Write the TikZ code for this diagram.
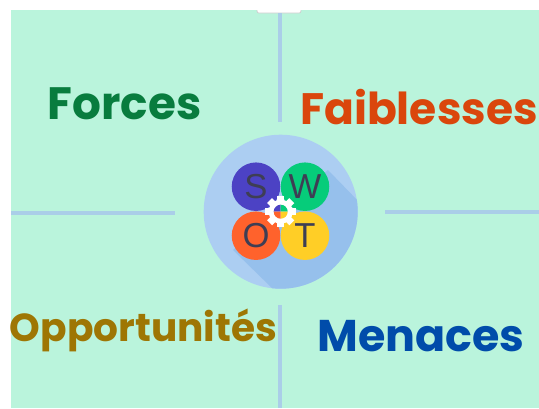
\documentclass[tikz,border=0pt]{standalone}
\usepackage{fontspec}
\setmainfont{Poppins}
\newfontfamily\lettersfont{Liberation Sans}
\definecolor{panelgreen}{RGB}{186,244,220}
\definecolor{linkblue}{RGB}{170,206,232}
\definecolor{hubblue}{RGB}{172,206,242}
\definecolor{shadeblue}{RGB}{150,192,236}
\definecolor{letterink}{RGB}{62,62,84}
\tikzset{
  titlelabel/.style={inner sep=0pt,font=\fontsize{34}{34}\selectfont\bfseries},
  linkline/.style={color=linkblue,line width=2.4},
  petal/.style={circle,minimum size=36.4pt,inner sep=0pt,text=letterink,font=\lettersfont\fontsize{26}{26}\selectfont},
}
\begin{document}
\begin{tikzpicture}[x=0.75pt,y=0.75pt,yscale=-1,xscale=1]
\useasboundingbox (0,0) rectangle (539,408);
%Shape: Panel
\fill [white] (0,0) rectangle (539,408);
\fill [panelgreen] (11,10) rectangle (539,408);
%Shape: Tab
\draw [color={rgb, 255:red, 205; green, 205; blue, 205 }, fill=white, line width=0.5] (257,9) -- (257,11) .. controls (257,12.5) and (258,13) .. (259,13) -- (299,13) .. controls (300,13) and (301,12.5) .. (301,11) -- (301,9) ;
\fill [white] (256,8) rectangle (302,10);
%Shape: Links
\coordinate (topstart) at (280,13);
\coordinate (topend) at (280,122);
\coordinate (bottomstart) at (280,305);
\coordinate (bottomend) at (280,408);
\coordinate (leftstart) at (11,213);
\coordinate (leftend) at (175,213);
\coordinate (rightstart) at (385,212);
\coordinate (rightend) at (539,212);
\draw [linkline] (topstart) -- (topend);
\draw [linkline] (bottomstart) -- (bottomend);
\draw [linkline] (leftstart) -- (leftend);
\draw [linkline] (rightstart) -- (rightend);
%Shape: Hub
\node (hub) at (280.7,211.7) [circle,fill=hubblue,minimum size=115.5pt,inner sep=0pt] {};
\begin{scope}
\clip (280.7,211.7) circle (77);
\fill [shadeblue] (328,170) -- (360,203) -- (370,280) -- (290,300) -- (273,289) -- (233,250) -- cycle;
\end{scope}
%Shape: Petals
\node (petalS) at (256,186.7) [petal,fill={rgb, 255:red, 76; green, 66; blue, 196 }] {S};
\node (petalW) at (305,186.7) [petal,fill={rgb, 255:red, 6; green, 204; blue, 122 }] {W};
\node (petalO) at (256,235.7) [petal,fill={rgb, 255:red, 255; green, 98; blue, 44 }] {O};
\node (petalT) at (305,235.7) [petal,fill={rgb, 255:red, 255; green, 206; blue, 38 }] {T};
%Shape: Gear
\foreach \a in {0,45,...,315}
  \fill [white,rotate around={\a:(280.7,211.7)}] (277.2,196) rectangle (284.2,206);
\fill [white] (280.7,211.7) circle (12);
\fill [color={rgb, 255:red, 76; green, 66; blue, 196 }] (280.7,211.7) -- (273.7,211.7) arc (180:270:7) -- cycle;
\fill [color={rgb, 255:red, 6; green, 204; blue, 122 }] (280.7,211.7) -- (280.7,204.7) arc (270:360:7) -- cycle;
\fill [color={rgb, 255:red, 255; green, 206; blue, 38 }] (280.7,211.7) -- (287.7,211.7) arc (0:90:7) -- cycle;
\fill [color={rgb, 255:red, 255; green, 98; blue, 44 }] (280.7,211.7) -- (280.7,218.7) arc (90:180:7) -- cycle;
%Labels
\node (forces) at (124.5,104) [titlelabel,text={rgb, 255:red, 8; green, 124; blue, 62 }] {Forces};
\node (faiblesses) at (419,107) [titlelabel,font=\fontsize{33}{33}\selectfont\bfseries,text={rgb, 255:red, 218; green, 70; blue, 12 }] {Faiblesses};
\node (opportunites) at (143.5,330) [titlelabel,font=\fontsize{29.3}{30}\selectfont\bfseries,text={rgb, 255:red, 158; green, 118; blue, 4 }] {Opportunités};
\node (menaces) at (421,336) [titlelabel,font=\fontsize{33.3}{34}\selectfont\bfseries,text={rgb, 255:red, 0; green, 76; blue, 170 }] {Menaces};
\end{tikzpicture}
\end{document}
